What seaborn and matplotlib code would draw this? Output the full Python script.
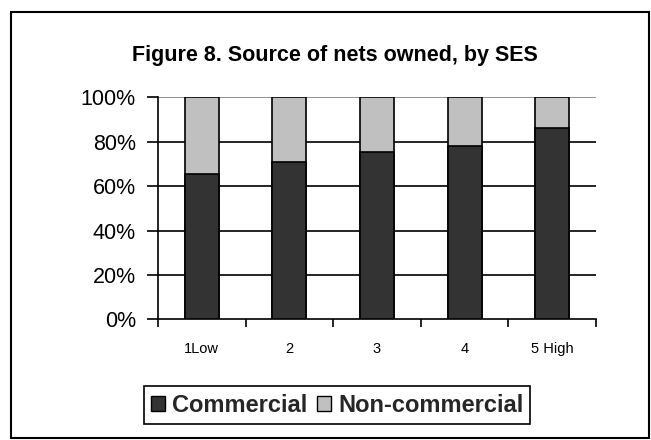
import matplotlib
matplotlib.use("Agg")
import matplotlib.pyplot as plt
import seaborn as sns
import pandas as pd
from matplotlib.patches import Rectangle, Patch
from matplotlib.ticker import FuncFormatter

categories = ["1Low", "2", "3", "4", "5 High"]
commercial = [65.5, 71.0, 75.5, 78.0, 86.0]
non_commercial = [34.5, 29.0, 24.5, 22.0, 14.0]
title = "Figure 8. Source of nets owned, by SES"
series_names = ["Commercial", "Non-commercial"]
yticks = [0, 20, 40, 60, 80, 100]

sns.set_theme(style="white")
plt.rcParams['font.family'] = ['Liberation Sans', 'DejaVu Sans']

df = pd.DataFrame({"SES": categories,
                   "commercial": commercial,
                   "total": [c + n for c, n in zip(commercial, non_commercial)]})

W, H = 651, 440
fig = plt.figure(figsize=(W / 100, H / 100), dpi=100)
ax = fig.add_axes([158/W, 1 - 319.3/H, (596 - 158)/W, (319.3 - 97.3)/H])

dark = "#333333"
light = "#c0c0c0"
sns.barplot(data=df, x="SES", y="total", color=light, width=0.39,
            edgecolor="black", linewidth=1.2, saturation=1, ax=ax, zorder=3)
sns.barplot(data=df, x="SES", y="commercial", color=dark, width=0.39,
            edgecolor="black", linewidth=1.2, saturation=1, ax=ax, zorder=3)

ax.set_ylim(0, 100)
ax.set_xlim(-0.5, len(categories) - 0.5)
ax.set_yticks(yticks)
ax.yaxis.set_major_formatter(FuncFormatter(lambda v, p: f"{int(v)}%"))
ax.set_xlabel("")
ax.set_ylabel("")
for y in yticks[1:-1]:
    ax.axhline(y, color="black", lw=1.2, zorder=1)
ax.axhline(100, color="#808080", lw=1.2, zorder=2)

for s in ["top", "right"]:
    ax.spines[s].set_visible(False)
for s in ["left", "bottom"]:
    ax.spines[s].set_color("black")
    ax.spines[s].set_linewidth(1.2)

ax.tick_params(axis="y", which="major", direction="out", length=8, width=1.2,
               color="black", left=True, labelsize=15.5, pad=8, labelcolor="black")
ax.tick_params(axis="x", which="major", length=0, labelsize=10.5, pad=16, labelcolor="black")
ax.set_xticks([i - 0.5 for i in range(len(categories) + 1)], minor=True)
ax.tick_params(axis="x", which="minor", direction="out", length=6, width=1.2,
               color="black", bottom=True)

fig.text(335/W, 1 - 55/H, title, ha="center", va="center",
         fontsize=15.5, fontweight="bold", color="black")

handles = [Patch(facecolor=dark, edgecolor="black", linewidth=1),
           Patch(facecolor=light, edgecolor="black", linewidth=1)]
leg = fig.legend(handles, series_names, loc="center", bbox_to_anchor=(337/W, 1 - 405/H),
                 ncol=2, frameon=True, fancybox=False, prop={"weight": "bold", "size": 17},
                 handlelength=0.6, handleheight=0.6, handletextpad=0.3, columnspacing=0.4,
                 borderpad=0.3, edgecolor="black")
leg.get_frame().set_linewidth(1.2)
leg.get_frame().set_alpha(1)

fig.patches.append(Rectangle((11/W, 2/H), (649 - 11)/W, (428 - 2)/H,
                             transform=fig.transFigure, fill=False,
                             edgecolor="black", linewidth=1.5))

fig.savefig("out.png", dpi=100, facecolor="white")
